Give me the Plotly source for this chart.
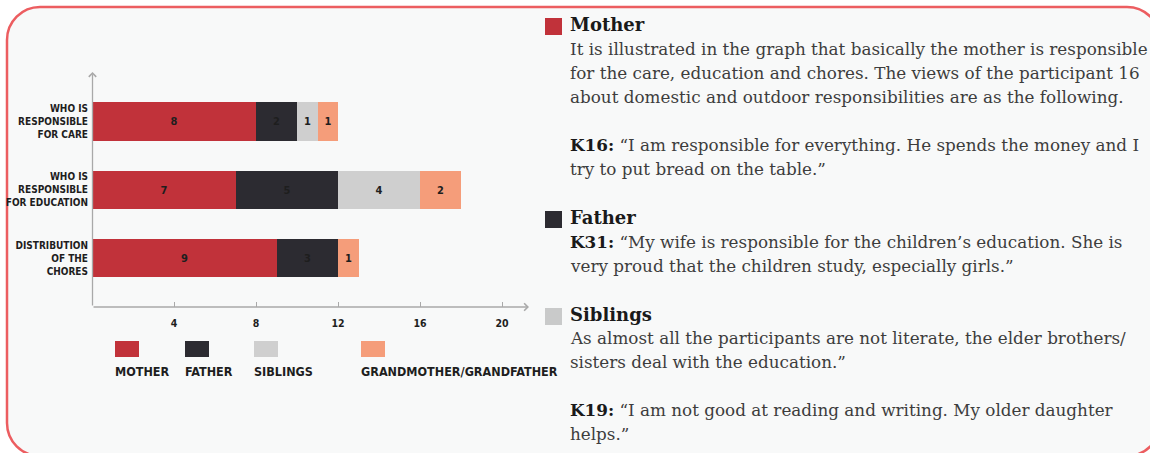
import plotly.graph_objects as go

W, H = 1150, 453

# ---- data ----
categories = ["care", "education", "chores"]
category_labels = [
    "WHO IS<br>RESPONSIBLE<br>FOR CARE",
    "WHO IS<br>RESPONSIBLE<br>FOR EDUCATION",
    "DISTRIBUTION<br>OF THE<br>CHORES",
]
series_names = ["MOTHER", "FATHER", "SIBLINGS", "GRANDMOTHER/GRANDFATHER"]
mother = [8, 7, 9]
father = [2, 5, 3]
siblings = [1, 4, 0]
grandparents = [1, 2, 1]
x_ticks = [4, 8, 12, 16, 20]

series_values = [mother, father, siblings, grandparents]
series_colors = ["#c1323a", "#2c2b31", "#cfcfcf", "#f59d7a"]

COND = "Liberation Sans Narrow, DejaVu Sans Condensed, Arial Narrow, sans-serif"
SERIF = "DejaVu Serif, serif"
INK = "#1e1e1e"


def px(x):
    return x / W


def py(y):
    return 1 - y / H


fig = go.Figure()

for name, vals, color in zip(series_names, series_values, series_colors):
    fig.add_trace(go.Bar(
        y=categories, x=vals, orientation="h", name=name,
        marker=dict(color=color, line=dict(width=0)),
        width=0.564,
        text=[str(v) if v else "" for v in vals],
        textposition="inside", insidetextanchor="middle", textangle=0,
        constraintext="none",
        textfont=dict(family=COND, size=11, color=INK, weight="bold"),
        hoverinfo="skip", showlegend=False,
    ))

shapes = []
annotations = []

# rounded panel behind everything
L, T, R, B, r = 7, 7, 1160, 456, 33
k = 0.5523 * r


def P(x, y):
    return f"{px(x):.5f},{py(y):.5f}"


path = (
    f"M {P(L + r, T)} L {P(R - r, T)} "
    f"C {P(R - r + k, T)} {P(R, T + r - k)} {P(R, T + r)} "
    f"L {P(R, B - r)} "
    f"C {P(R, B - r + k)} {P(R - r + k, B)} {P(R - r, B)} "
    f"L {P(L + r, B)} "
    f"C {P(L + r - k, B)} {P(L, B - r + k)} {P(L, B - r)} "
    f"L {P(L, T + r)} "
    f"C {P(L, T + r - k)} {P(L + r - k, T)} {P(L + r, T)} Z"
)
shapes.append(dict(type="path", xref="paper", yref="paper", path=path,
                   fillcolor="#f8f9f9", line=dict(color="#ec5d60", width=2.5),
                   layer="below"))

# axis lines with arrow heads (tails given as pixel offsets from the heads)
axis_color = "#a9a9a9"
annotations.append(dict(xref="paper", yref="paper", axref="pixel", ayref="pixel",
                        x=px(529), y=py(307), ax=-(529 - 92), ay=0, text="",
                        showarrow=True, arrowhead=4, arrowsize=1.1, arrowwidth=1.3,
                        arrowcolor=axis_color))
annotations.append(dict(xref="paper", yref="paper", axref="pixel", ayref="pixel",
                        x=px(92.5), y=py(72), ax=0, ay=307 - 72, text="",
                        showarrow=True, arrowhead=4, arrowsize=1.1, arrowwidth=1.3,
                        arrowcolor=axis_color))

# legend: swatch above each name
legend_left = [115, 185, 254, 361]
for name, color, x0 in zip(series_names, series_colors, legend_left):
    shapes.append(dict(type="rect", xref="paper", yref="paper",
                       x0=px(x0), x1=px(x0 + 24), y0=py(357), y1=py(341),
                       fillcolor=color, line=dict(width=0)))
    annotations.append(dict(xref="paper", yref="paper", x=px(x0 - 2), y=py(371),
                            xanchor="left", yanchor="middle", showarrow=False,
                            text=name,
                            font=dict(family=COND, size=12.5, color=INK, weight="bold")))

# commentary column
TX = 569
headings = [("Mother", 24, series_colors[0]),
            ("Father", 217, series_colors[1]),
            ("Siblings", 314, "#c9caca")]
for title, yc, color in headings:
    shapes.append(dict(type="rect", xref="paper", yref="paper",
                       x0=px(545), x1=px(562), y0=py(yc + 11), y1=py(yc - 6),
                       fillcolor=color, line=dict(width=0)))
    annotations.append(dict(xref="paper", yref="paper", x=px(TX - 1), y=py(yc),
                            xanchor="left", yanchor="middle", showarrow=False,
                            text=f"<b>{title}</b>",
                            font=dict(family=SERIF, size=18, color="#1a1a1a")))


def bold(s):
    return f'<span style="font-weight:bold;fill:#1a1a1a">{s}</span>'


body_lines = [
    (49, "It is illustrated in the graph that basically the mother is responsible"),
    (73, "for the care, education and chores. The views of the participant 16"),
    (97, "about domestic and outdoor responsibilities are as the following."),
    (145, bold("K16:") + " “I am responsible for everything. He spends the money and I"),
    (169, "try to put bread on the table.”"),
    (242, bold("K31:") + " “My wife is responsible for the children’s education. She is"),
    (266, "very proud that the children study, especially girls.”"),
    (338, "As almost all the participants are not literate, the elder brothers/"),
    (362, "sisters deal with the education.”"),
    (410, bold("K19:") + " “I am not good at reading and writing. My older daughter"),
    (434, "helps.”"),
]
for yc, line in body_lines:
    annotations.append(dict(xref="paper", yref="paper", x=px(TX - 1), y=py(yc),
                            xanchor="left", yanchor="middle", showarrow=False,
                            text=line,
                            font=dict(family=SERIF, size=16.8, color="#3d3d3d")))

fig.update_layout(
    width=W, height=H,
    margin=dict(l=0, r=0, t=0, b=0),
    paper_bgcolor="#ffffff", plot_bgcolor="rgba(0,0,0,0)",
    barmode="stack", bargap=0,
    shapes=shapes, annotations=annotations,
    xaxis=dict(domain=[px(92), px(528)], range=[0, 436 / 20.5], automargin=False,
               tickvals=x_ticks, ticktext=[str(t) for t in x_ticks],
               ticks="inside", ticklen=5, tickwidth=1, tickcolor=axis_color,
               showgrid=False, zeroline=False, showline=False,
               ticklabelstandoff=8,
               tickfont=dict(family=COND, size=10.5, color=INK, weight="bold")),
    yaxis=dict(domain=[py(307), py(73)], type="category", automargin=False,
               categoryorder="array", categoryarray=categories[::-1],
               range=[-0.718, 2.712],
               tickvals=categories, ticktext=category_labels,
               ticks="", showgrid=False, zeroline=False, showline=False,
               ticklabelstandoff=3,
               tickfont=dict(family=COND, size=10, color=INK, weight="bold")),
)

fig.write_html("out.html")
